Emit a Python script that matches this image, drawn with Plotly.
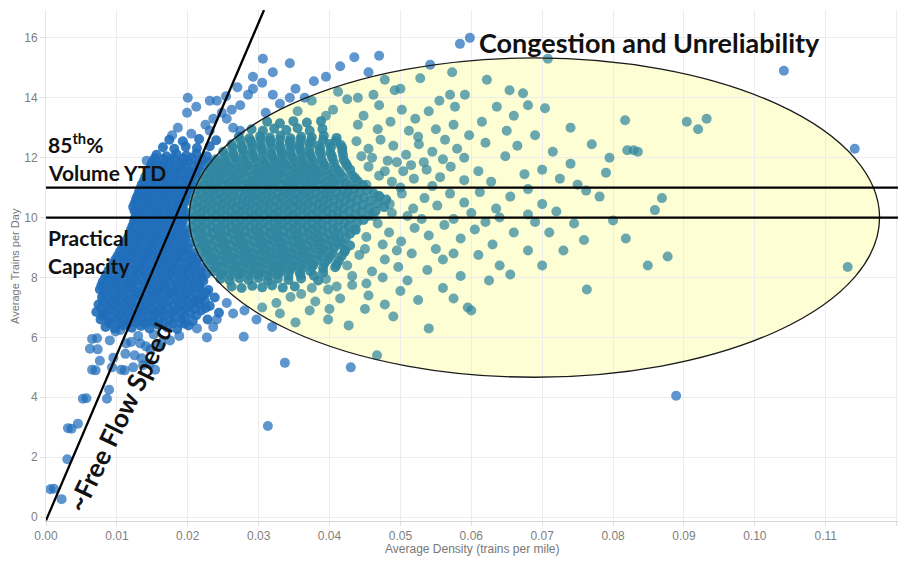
import plotly.graph_objects as go

# ---------------- data: (average density [trains/mile], average trains per day) ----------------
free_flow_pts = [
    (.0006, .93), (.0011, .95), (.0022, .6), (.0030, 1.93), (.0031, 2.97), (.0036, 2.95), (.0045, 3.12),
    (.0052, 3.95), (.0057, 3.97), (.0086, 3.95), (.0089, 4.25), (.0065, 4.92), (.0070, 4.9), (.0076, 5.22),
    (.0093, 5.0), (.0106, 4.92), (.0111, 4.9), (.0123, 5.0), (.0137, 5.07), (.0154, 4.92), (.0062, 5.62),
    (.0073, 5.6), (.0095, 5.32), (.0112, 5.45), (.0125, 5.4), (.0135, 5.3), (.0146, 5.12), (.0065, 5.95),
    (.0072, 5.97), (.0090, 5.9), (.0113, 5.8), (.0120, 5.85), (.0133, 5.8), (.0141, 5.7), (.0147, 5.6),
    (.0158, 5.7), (.0163, 5.82), (.0175, 5.9), (.0098, 6.2), (.0105, 6.25), (.0130, 6.05), (.0152, 6.1),
    (.0188, 6.05), (.0227, 6.0), (.0279, 6.02), (.0319, 6.35), (.0337, 5.15), (.0313, 3.04), (.0189, 6.5),
    (.0213, 6.3), (.0236, 6.35), (.0241, 6.6), (.0264, 6.8), (.0280, 6.9), (.0297, 6.6), (.0255, 7.15),
    (.0217, 7.25),
]

core_low_pts = [
    (.0084, 6.35), (.0097, 6.3), (.0109, 6.4), (.0121, 6.32), (.0134, 6.38), (.0146, 6.3), (.0158, 6.42), (.0171, 6.33), (.0185, 6.28), (.0201, 6.4),
    (.0077, 6.6), (.0089, 6.55), (.0101, 6.63), (.0113, 6.58), (.0125, 6.62), (.0138, 6.55), (.0150, 6.6), (.0162, 6.65), (.0175, 6.57), (.0191, 6.62), (.0207, 6.55), (.0228, 6.6),
    (.0071, 6.85), (.0082, 6.8), (.0094, 6.88), (.0106, 6.83), (.0118, 6.87), (.0129, 6.8), (.0141, 6.86), (.0152, 6.82), (.0165, 6.88), (.0177, 6.8), (.0190, 6.86), (.0203, 6.83), (.0219, 6.9), (.0244, 6.82),
    (.0074, 7.1), (.0086, 7.05), (.0098, 7.12), (.0110, 7.07), (.0121, 7.13), (.0133, 7.05), (.0144, 7.1), (.0156, 7.08), (.0167, 7.14), (.0179, 7.06), (.0192, 7.11), (.0204, 7.07), (.0216, 7.13), (.0231, 7.05),
    (.0079, 7.35), (.0091, 7.3), (.0102, 7.37), (.0114, 7.32), (.0126, 7.38), (.0137, 7.3), (.0149, 7.36), (.0160, 7.33), (.0172, 7.38), (.0184, 7.31), (.0196, 7.36), (.0208, 7.32), (.0221, 7.38), (.0238, 7.33),
    (.0076, 7.6), (.0088, 7.55), (.0099, 7.62), (.0111, 7.57), (.0122, 7.63), (.0134, 7.55), (.0145, 7.6), (.0157, 7.58), (.0168, 7.64), (.0180, 7.56), (.0192, 7.61), (.0204, 7.57), (.0216, 7.63), (.0229, 7.58),
    (.0080, 7.85), (.0092, 7.8), (.0104, 7.87), (.0116, 7.82), (.0127, 7.88), (.0139, 7.8), (.0150, 7.86), (.0162, 7.83), (.0173, 7.88), (.0185, 7.81), (.0197, 7.86), (.0209, 7.82), (.0222, 7.88),
    (.0085, 8.1), (.0096, 8.05), (.0108, 8.12), (.0119, 8.07), (.0131, 8.13), (.0142, 8.05), (.0154, 8.1), (.0165, 8.08), (.0177, 8.14), (.0188, 8.06), (.0200, 8.11), (.0212, 8.07), (.0226, 8.12),
    (.0091, 8.35), (.0103, 8.3), (.0114, 8.37), (.0126, 8.32), (.0137, 8.38), (.0149, 8.3), (.0160, 8.36), (.0172, 8.33), (.0183, 8.38), (.0195, 8.31), (.0207, 8.36), (.0219, 8.32),
    (.0098, 8.6), (.0110, 8.55), (.0121, 8.62), (.0133, 8.57), (.0144, 8.63), (.0156, 8.55), (.0167, 8.6), (.0179, 8.58), (.0190, 8.64), (.0202, 8.56), (.0214, 8.61),
    (.0104, 8.85), (.0116, 8.8), (.0127, 8.87), (.0139, 8.82), (.0150, 8.88), (.0162, 8.8), (.0173, 8.86), (.0185, 8.83), (.0196, 8.88), (.0208, 8.81),
]

core_low_fill_pts = [
    (.0090, 6.47), (.0103, 6.5), (.0115, 6.45), (.0128, 6.49), (.0140, 6.46), (.0152, 6.5), (.0165, 6.45), (.0179, 6.48), (.0195, 6.46),
    (.0080, 6.72), (.0092, 6.7), (.0104, 6.74), (.0116, 6.71), (.0129, 6.73), (.0141, 6.7), (.0153, 6.75), (.0166, 6.71), (.0180, 6.73), (.0196, 6.7), (.0212, 6.74),
    (.0078, 6.97), (.0090, 6.95), (.0101, 6.99), (.0113, 6.96), (.0125, 6.98), (.0136, 6.95), (.0148, 7.0), (.0160, 6.96), (.0172, 6.98), (.0185, 6.95), (.0198, 6.99), (.0210, 6.96), (.0225, 6.98),
    (.0080, 7.22), (.0092, 7.2), (.0104, 7.24), (.0115, 7.21), (.0127, 7.23), (.0139, 7.2), (.0150, 7.25), (.0162, 7.21), (.0174, 7.23), (.0186, 7.2), (.0198, 7.24), (.0210, 7.21), (.0224, 7.23),
    (.0082, 7.47), (.0094, 7.45), (.0105, 7.49), (.0117, 7.46), (.0128, 7.48), (.0140, 7.45), (.0152, 7.5), (.0163, 7.46), (.0175, 7.48), (.0187, 7.45), (.0199, 7.49), (.0212, 7.46), (.0226, 7.48),
    (.0078, 7.72), (.0086, 7.7), (.0098, 7.74), (.0110, 7.71), (.0121, 7.73), (.0133, 7.7), (.0145, 7.75), (.0156, 7.71), (.0168, 7.73), (.0180, 7.7), (.0192, 7.74), (.0204, 7.71), (.0217, 7.73),
    (.0083, 7.97), (.0090, 7.95), (.0102, 7.99), (.0113, 7.96), (.0125, 7.98), (.0137, 7.95), (.0148, 8.0), (.0160, 7.96), (.0171, 7.98), (.0183, 7.95), (.0195, 7.99), (.0207, 7.96), (.0220, 7.98),
    (.0088, 8.22), (.0100, 8.2), (.0111, 8.24), (.0123, 8.21), (.0135, 8.23), (.0146, 8.2), (.0158, 8.25), (.0169, 8.21), (.0181, 8.23), (.0193, 8.2), (.0205, 8.24), (.0217, 8.21),
    (.0095, 8.47), (.0107, 8.45), (.0118, 8.49), (.0130, 8.46), (.0141, 8.48), (.0153, 8.45), (.0165, 8.5), (.0176, 8.46), (.0188, 8.48), (.0200, 8.45), (.0212, 8.49),
    (.0101, 8.72), (.0113, 8.7), (.0124, 8.74), (.0136, 8.71), (.0148, 8.73), (.0159, 8.7), (.0171, 8.75), (.0182, 8.71), (.0194, 8.73), (.0206, 8.7),
]

core_high_pts = [
    (.0110, 9.1), (.0122, 9.05), (.0133, 9.12), (.0145, 9.07), (.0156, 9.13), (.0168, 9.05), (.0179, 9.1), (.0191, 9.08), (.0203, 9.13),
    (.0116, 9.35), (.0127, 9.3), (.0139, 9.37), (.0150, 9.32), (.0162, 9.38), (.0173, 9.3), (.0185, 9.36), (.0197, 9.33),
    (.0120, 9.6), (.0131, 9.55), (.0143, 9.62), (.0154, 9.57), (.0166, 9.63), (.0177, 9.55), (.0189, 9.6), (.0200, 9.58),
    (.0124, 9.85), (.0135, 9.8), (.0147, 9.87), (.0158, 9.82), (.0170, 9.88), (.0181, 9.8), (.0193, 9.86),
    (.0127, 10.1), (.0138, 10.05), (.0150, 10.12), (.0161, 10.07), (.0173, 10.13), (.0184, 10.05), (.0196, 10.1),
    (.0123, 10.35), (.0134, 10.3), (.0146, 10.37), (.0157, 10.32), (.0169, 10.38), (.0180, 10.3), (.0192, 10.36),
    (.0127, 10.6), (.0139, 10.55), (.0150, 10.62), (.0162, 10.57), (.0173, 10.63), (.0185, 10.55), (.0197, 10.6),
    (.0131, 10.85), (.0142, 10.8), (.0154, 10.87), (.0165, 10.82), (.0177, 10.88), (.0188, 10.8), (.0200, 10.86),
    (.0135, 11.1), (.0147, 11.05), (.0158, 11.12), (.0170, 11.07), (.0181, 11.13), (.0193, 11.05), (.0205, 11.1),
    (.0140, 11.35), (.0151, 11.3), (.0163, 11.37), (.0174, 11.32), (.0186, 11.38), (.0198, 11.3), (.0211, 11.36),
    (.0145, 11.6), (.0157, 11.55), (.0168, 11.62), (.0180, 11.57), (.0191, 11.63), (.0203, 11.55), (.0216, 11.6),
    (.0150, 11.85), (.0163, 11.8), (.0176, 11.87), (.0189, 11.82), (.0201, 11.88), (.0215, 11.8), (.0229, 11.86),
    (.0156, 12.1), (.0170, 12.05), (.0184, 12.12), (.0198, 12.07), (.0212, 12.13), (.0227, 12.05),
    (.0165, 12.35), (.0181, 12.3), (.0197, 12.37), (.0213, 12.32), (.0231, 12.38),
    (.0174, 12.6), (.0193, 12.55), (.0216, 12.62), (.0240, 12.58),
]

core_high_fill_pts = [
    (.0107, 8.97), (.0119, 8.95), (.0130, 8.99), (.0142, 8.96), (.0153, 8.98), (.0165, 8.95), (.0176, 9.0), (.0188, 8.96), (.0200, 8.98),
    (.0113, 9.22), (.0125, 9.2), (.0136, 9.24), (.0148, 9.21), (.0159, 9.23), (.0171, 9.2), (.0183, 9.25), (.0194, 9.21),
    (.0118, 9.47), (.0130, 9.45), (.0141, 9.49), (.0153, 9.46), (.0164, 9.48), (.0176, 9.45), (.0187, 9.5), (.0199, 9.46),
    (.0122, 9.72), (.0134, 9.7), (.0145, 9.74), (.0157, 9.71), (.0168, 9.73), (.0180, 9.7), (.0191, 9.75),
    (.0125, 9.97), (.0137, 9.95), (.0148, 9.99), (.0160, 9.96), (.0171, 9.98), (.0183, 9.95), (.0195, 10.0),
    (.0125, 10.22), (.0136, 10.2), (.0148, 10.24), (.0159, 10.21), (.0171, 10.23), (.0182, 10.2), (.0194, 10.25),
    (.0125, 10.47), (.0137, 10.45), (.0148, 10.49), (.0160, 10.46), (.0171, 10.48), (.0183, 10.45), (.0195, 10.5),
    (.0129, 10.72), (.0141, 10.7), (.0152, 10.74), (.0164, 10.71), (.0175, 10.73), (.0187, 10.7), (.0198, 10.75),
    (.0133, 10.97), (.0145, 10.95), (.0156, 10.99), (.0168, 10.96), (.0179, 10.98), (.0191, 10.95), (.0203, 11.0),
    (.0138, 11.22), (.0149, 11.2), (.0161, 11.24), (.0172, 11.21), (.0184, 11.23), (.0196, 11.2), (.0208, 11.25),
    (.0143, 11.47), (.0154, 11.45), (.0166, 11.49), (.0177, 11.46), (.0189, 11.48), (.0201, 11.45), (.0213, 11.5),
    (.0148, 11.72), (.0160, 11.7), (.0172, 11.74), (.0184, 11.71), (.0196, 11.73), (.0209, 11.7), (.0222, 11.75),
    (.0153, 11.97), (.0166, 11.95), (.0180, 11.99), (.0193, 11.96), (.0206, 11.98), (.0220, 11.95),
]

upper_scatter_pts = [
    (.0186, 13.0), (.0178, 12.75), (.0199, 13.5), (.0231, 13.9), (.0241, 13.9), (.0306, 15.3), (.0344, 15.15),
    (.0292, 14.7), (.0292, 14.3), (.0285, 14.1), (.0274, 13.75), (.0344, 14.0), (.0236, 13.3), (.0255, 13.3),
    (.0264, 13.0), (.0274, 12.9), (.0231, 12.9), (.0142, 11.9), (.0128, 10.65),
    (.0205, 12.8), (.0225, 13.1), (.0248, 13.5), (.0262, 13.6), (.0212, 13.7), (.0200, 14.0), (.0254, 14.05),
    (.0270, 14.35), (.0305, 14.5), (.0320, 14.85), (.0310, 13.5), (.0330, 13.8), (.0355, 13.55), (.0375, 13.9),
    (.0395, 13.4), (.0320, 14.1), (.0365, 14.0),
]

congested_core_pts = [
    (.0262, 7.7), (.0276, 7.65), (.0291, 7.72), (.0305, 7.67), (.0319, 7.73), (.0334, 7.66), (.0351, 7.7),
    (.0246, 7.95), (.0259, 7.9), (.0273, 7.97), (.0286, 7.92), (.0300, 7.98), (.0313, 7.9), (.0327, 7.96), (.0342, 7.92), (.0360, 7.97), (.0384, 7.9),
    (.0236, 8.2), (.0249, 8.15), (.0263, 8.22), (.0276, 8.17), (.0290, 8.23), (.0303, 8.15), (.0317, 8.2), (.0330, 8.18), (.0344, 8.23), (.0358, 8.16), (.0373, 8.21), (.0391, 8.17),
    (.0229, 8.45), (.0242, 8.4), (.0255, 8.47), (.0269, 8.42), (.0282, 8.48), (.0296, 8.4), (.0309, 8.46), (.0323, 8.43), (.0336, 8.48), (.0350, 8.41), (.0363, 8.46), (.0377, 8.42), (.0393, 8.48), (.0410, 8.43),
    (.0223, 8.7), (.0236, 8.65), (.0249, 8.72), (.0263, 8.67), (.0276, 8.73), (.0290, 8.65), (.0303, 8.7), (.0317, 8.68), (.0330, 8.73), (.0344, 8.66), (.0357, 8.71), (.0371, 8.67), (.0385, 8.73), (.0400, 8.68), (.0417, 8.72),
    (.0216, 8.95), (.0229, 8.9), (.0243, 8.97), (.0256, 8.92), (.0270, 8.98), (.0283, 8.9), (.0297, 8.96), (.0310, 8.93), (.0324, 8.98), (.0337, 8.91), (.0351, 8.96), (.0364, 8.92), (.0378, 8.98), (.0392, 8.93), (.0406, 8.97), (.0422, 8.91),
    (.0212, 9.2), (.0225, 9.15), (.0239, 9.22), (.0252, 9.17), (.0266, 9.23), (.0279, 9.15), (.0293, 9.2), (.0306, 9.18), (.0320, 9.23), (.0333, 9.16), (.0347, 9.21), (.0360, 9.17), (.0374, 9.23), (.0388, 9.18), (.0402, 9.22), (.0417, 9.16),
    (.0208, 9.45), (.0221, 9.4), (.0235, 9.47), (.0248, 9.42), (.0262, 9.48), (.0275, 9.4), (.0289, 9.46), (.0302, 9.43), (.0316, 9.48), (.0329, 9.41), (.0343, 9.46), (.0356, 9.42), (.0370, 9.48), (.0384, 9.43), (.0398, 9.47), (.0413, 9.41), (.0429, 9.46),
    (.0206, 9.7), (.0219, 9.65), (.0233, 9.72), (.0246, 9.67), (.0260, 9.73), (.0273, 9.65), (.0287, 9.7), (.0300, 9.68), (.0314, 9.73), (.0327, 9.66), (.0341, 9.71), (.0354, 9.67), (.0368, 9.73), (.0382, 9.68), (.0396, 9.72), (.0411, 9.66), (.0427, 9.71),
    (.0207, 9.95), (.0220, 9.9), (.0234, 9.97), (.0247, 9.92), (.0261, 9.98), (.0274, 9.9), (.0288, 9.96), (.0301, 9.93), (.0315, 9.98), (.0328, 9.91), (.0342, 9.96), (.0355, 9.92), (.0369, 9.98), (.0383, 9.93), (.0398, 9.97), (.0413, 9.91), (.0430, 9.96), (.0448, 9.92),
    (.0206, 10.2), (.0219, 10.15), (.0233, 10.22), (.0246, 10.17), (.0260, 10.23), (.0273, 10.15), (.0287, 10.2), (.0300, 10.18), (.0314, 10.23), (.0327, 10.16), (.0341, 10.21), (.0354, 10.17), (.0368, 10.23), (.0382, 10.18), (.0396, 10.22), (.0411, 10.16), (.0427, 10.21), (.0445, 10.17), (.0465, 10.22),
    (.0208, 10.45), (.0221, 10.4), (.0235, 10.47), (.0248, 10.42), (.0262, 10.48), (.0275, 10.4), (.0289, 10.46), (.0302, 10.43), (.0316, 10.48), (.0329, 10.41), (.0343, 10.46), (.0356, 10.42), (.0370, 10.48), (.0384, 10.43), (.0398, 10.47), (.0413, 10.41), (.0429, 10.46), (.0447, 10.42), (.0468, 10.47),
    (.0210, 10.7), (.0223, 10.65), (.0237, 10.72), (.0250, 10.67), (.0264, 10.73), (.0277, 10.65), (.0291, 10.7), (.0304, 10.68), (.0318, 10.73), (.0331, 10.66), (.0345, 10.71), (.0358, 10.67), (.0372, 10.73), (.0386, 10.68), (.0400, 10.72), (.0415, 10.66), (.0431, 10.71), (.0449, 10.67), (.0470, 10.72),
    (.0214, 10.95), (.0227, 10.9), (.0241, 10.97), (.0254, 10.92), (.0268, 10.98), (.0281, 10.9), (.0295, 10.96), (.0308, 10.93), (.0322, 10.98), (.0335, 10.91), (.0349, 10.96), (.0362, 10.92), (.0376, 10.98), (.0390, 10.93), (.0404, 10.97), (.0419, 10.91), (.0435, 10.96), (.0453, 10.92),
    (.0218, 11.2), (.0231, 11.15), (.0245, 11.22), (.0258, 11.17), (.0272, 11.23), (.0285, 11.15), (.0299, 11.2), (.0312, 11.18), (.0326, 11.23), (.0339, 11.16), (.0353, 11.21), (.0366, 11.17), (.0380, 11.23), (.0394, 11.18), (.0408, 11.22), (.0423, 11.16), (.0440, 11.21),
    (.0224, 11.45), (.0237, 11.4), (.0251, 11.47), (.0264, 11.42), (.0278, 11.48), (.0291, 11.4), (.0305, 11.46), (.0318, 11.43), (.0332, 11.48), (.0345, 11.41), (.0359, 11.46), (.0372, 11.42), (.0386, 11.48), (.0400, 11.43), (.0415, 11.47), (.0432, 11.41),
    (.0231, 11.7), (.0244, 11.65), (.0258, 11.72), (.0271, 11.67), (.0285, 11.73), (.0298, 11.65), (.0312, 11.7), (.0325, 11.68), (.0339, 11.73), (.0352, 11.66), (.0366, 11.71), (.0379, 11.67), (.0393, 11.73), (.0408, 11.68), (.0425, 11.72),
    (.0240, 11.95), (.0253, 11.9), (.0267, 11.97), (.0280, 11.92), (.0294, 11.98), (.0307, 11.9), (.0321, 11.96), (.0334, 11.93), (.0348, 11.98), (.0361, 11.91), (.0375, 11.96), (.0389, 11.92), (.0404, 11.98), (.0420, 11.93),
    (.0250, 12.2), (.0264, 12.15), (.0278, 12.22), (.0291, 12.17), (.0305, 12.23), (.0318, 12.15), (.0332, 12.2), (.0345, 12.18), (.0359, 12.23), (.0372, 12.16), (.0386, 12.21), (.0401, 12.17), (.0418, 12.22),
    (.0262, 12.45), (.0276, 12.4), (.0290, 12.47), (.0303, 12.42), (.0317, 12.48), (.0330, 12.4), (.0344, 12.46), (.0357, 12.43), (.0371, 12.48), (.0385, 12.41), (.0400, 12.46), (.0416, 12.42),
    (.0272, 12.7), (.0287, 12.65), (.0302, 12.72), (.0316, 12.67), (.0331, 12.73), (.0345, 12.65), (.0360, 12.7), (.0375, 12.68), (.0392, 12.73), (.0410, 12.66),
    (.0290, 12.95), (.0306, 12.9), (.0322, 12.97), (.0339, 12.92), (.0355, 12.98), (.0372, 12.9), (.0390, 12.96),
    (.0312, 13.2), (.0330, 13.15), (.0349, 13.22), (.0368, 13.17), (.0388, 13.22),
]

congested_fill_pts = [
    (.0247, 8.08), (.0260, 8.06), (.0273, 8.1), (.0287, 8.07), (.0300, 8.09), (.0314, 8.05), (.0327, 8.1), (.0342, 8.07), (.0359, 8.09), (.0378, 8.06),
    (.0239, 8.33), (.0252, 8.31), (.0266, 8.35), (.0279, 8.32), (.0293, 8.34), (.0306, 8.3), (.0320, 8.35), (.0333, 8.32), (.0347, 8.34), (.0361, 8.31), (.0375, 8.35), (.0391, 8.32), (.0408, 8.34),
    (.0232, 8.58), (.0246, 8.56), (.0259, 8.6), (.0273, 8.57), (.0286, 8.59), (.0300, 8.55), (.0313, 8.6), (.0327, 8.57), (.0340, 8.59), (.0354, 8.56), (.0367, 8.6), (.0382, 8.57), (.0397, 8.59), (.0413, 8.56),
    (.0226, 8.83), (.0239, 8.81), (.0253, 8.85), (.0266, 8.82), (.0280, 8.84), (.0293, 8.8), (.0307, 8.85), (.0320, 8.82), (.0334, 8.84), (.0347, 8.81), (.0361, 8.85), (.0374, 8.82), (.0389, 8.84), (.0404, 8.81), (.0421, 8.85),
    (.0221, 9.08), (.0234, 9.06), (.0248, 9.1), (.0261, 9.07), (.0275, 9.09), (.0288, 9.05), (.0302, 9.1), (.0315, 9.07), (.0329, 9.09), (.0342, 9.06), (.0356, 9.1), (.0369, 9.07), (.0383, 9.09), (.0398, 9.06), (.0413, 9.1), (.0429, 9.07),
    (.0217, 9.33), (.0230, 9.31), (.0244, 9.35), (.0257, 9.32), (.0271, 9.34), (.0284, 9.3), (.0298, 9.35), (.0311, 9.32), (.0325, 9.34), (.0338, 9.31), (.0352, 9.35), (.0365, 9.32), (.0379, 9.34), (.0393, 9.31), (.0408, 9.35), (.0423, 9.32),
    (.0214, 9.58), (.0227, 9.56), (.0241, 9.6), (.0254, 9.57), (.0268, 9.59), (.0281, 9.55), (.0295, 9.6), (.0308, 9.57), (.0322, 9.59), (.0335, 9.56), (.0349, 9.6), (.0362, 9.57), (.0376, 9.59), (.0390, 9.56), (.0405, 9.6), (.0420, 9.57), (.0437, 9.59),
    (.0213, 9.83), (.0226, 9.81), (.0240, 9.85), (.0253, 9.82), (.0267, 9.84), (.0280, 9.8), (.0294, 9.85), (.0307, 9.82), (.0321, 9.84), (.0334, 9.81), (.0348, 9.85), (.0361, 9.82), (.0375, 9.84), (.0389, 9.81), (.0405, 9.85), (.0421, 9.82), (.0439, 9.84),
    (.0213, 10.08), (.0226, 10.06), (.0240, 10.1), (.0253, 10.07), (.0267, 10.09), (.0280, 10.05), (.0294, 10.1), (.0307, 10.07), (.0321, 10.09), (.0334, 10.06), (.0348, 10.1), (.0361, 10.07), (.0375, 10.09), (.0389, 10.06), (.0404, 10.1), (.0419, 10.07), (.0437, 10.09), (.0456, 10.06),
    (.0214, 10.33), (.0227, 10.31), (.0241, 10.35), (.0254, 10.32), (.0268, 10.34), (.0281, 10.3), (.0295, 10.35), (.0308, 10.32), (.0322, 10.34), (.0335, 10.31), (.0349, 10.35), (.0362, 10.32), (.0376, 10.34), (.0390, 10.31), (.0405, 10.35), (.0420, 10.32), (.0437, 10.34), (.0456, 10.31), (.0477, 10.35),
    (.0216, 10.58), (.0229, 10.56), (.0243, 10.6), (.0256, 10.57), (.0270, 10.59), (.0283, 10.55), (.0297, 10.6), (.0310, 10.57), (.0324, 10.59), (.0337, 10.56), (.0351, 10.6), (.0364, 10.57), (.0378, 10.59), (.0392, 10.56), (.0407, 10.6), (.0422, 10.57), (.0439, 10.59), (.0458, 10.56), (.0480, 10.6),
    (.0219, 10.83), (.0232, 10.81), (.0246, 10.85), (.0259, 10.82), (.0273, 10.84), (.0286, 10.8), (.0300, 10.85), (.0313, 10.82), (.0327, 10.84), (.0340, 10.81), (.0354, 10.85), (.0367, 10.82), (.0381, 10.84), (.0395, 10.81), (.0410, 10.85), (.0425, 10.82), (.0442, 10.84), (.0462, 10.81),
    (.0223, 11.08), (.0236, 11.06), (.0250, 11.1), (.0263, 11.07), (.0277, 11.09), (.0290, 11.05), (.0304, 11.1), (.0317, 11.07), (.0331, 11.09), (.0344, 11.06), (.0358, 11.1), (.0371, 11.07), (.0385, 11.09), (.0399, 11.06), (.0414, 11.1), (.0429, 11.07), (.0447, 11.09),
    (.0228, 11.33), (.0241, 11.31), (.0255, 11.35), (.0268, 11.32), (.0282, 11.34), (.0295, 11.3), (.0309, 11.35), (.0322, 11.32), (.0336, 11.34), (.0349, 11.31), (.0363, 11.35), (.0376, 11.32), (.0390, 11.34), (.0404, 11.31), (.0419, 11.35), (.0436, 11.32),
    (.0234, 11.58), (.0247, 11.56), (.0261, 11.6), (.0274, 11.57), (.0288, 11.59), (.0301, 11.55), (.0315, 11.6), (.0328, 11.57), (.0342, 11.59), (.0355, 11.56), (.0369, 11.6), (.0382, 11.57), (.0397, 11.59), (.0412, 11.56), (.0429, 11.6),
    (.0242, 11.83), (.0255, 11.81), (.0269, 11.85), (.0282, 11.82), (.0296, 11.84), (.0309, 11.8), (.0323, 11.85), (.0336, 11.82), (.0350, 11.84), (.0363, 11.81), (.0377, 11.85), (.0391, 11.82), (.0406, 11.84), (.0423, 11.81),
    (.0252, 12.08), (.0265, 12.06), (.0279, 12.1), (.0292, 12.07), (.0306, 12.09), (.0319, 12.05), (.0333, 12.1), (.0346, 12.07), (.0360, 12.09), (.0373, 12.06), (.0388, 12.1), (.0403, 12.07), (.0419, 12.09),
    (.0263, 12.33), (.0277, 12.31), (.0291, 12.35), (.0304, 12.32), (.0318, 12.34), (.0331, 12.3), (.0345, 12.35), (.0358, 12.32), (.0372, 12.34), (.0387, 12.31), (.0402, 12.35), (.0418, 12.32),
    (.0275, 12.58), (.0289, 12.56), (.0303, 12.6), (.0316, 12.57), (.0330, 12.59), (.0344, 12.55), (.0359, 12.6), (.0374, 12.57), (.0391, 12.59), (.0409, 12.56),
]

congested_halo_pts = [
    (.0405, 13.6), (.0425, 13.95), (.0448, 13.4), (.0470, 13.75), (.0486, 13.2), (.0502, 13.6), (.0521, 13.3), (.0540, 13.55),
    (.0512, 12.9), (.0468, 12.95), (.0440, 13.1), (.0555, 13.9), (.0500, 14.3), (.0528, 14.65),
    (.0438, 12.55), (.0455, 12.3), (.0472, 12.6), (.0490, 12.4), (.0508, 12.1), (.0526, 12.45), (.0545, 12.2), (.0563, 12.6),
    (.0580, 12.3), (.0597, 12.75), (.0460, 12.0), (.0482, 11.9), (.0533, 11.85),
    (.0455, 11.7), (.0470, 11.4), (.0488, 11.2), (.0504, 11.55), (.0519, 11.3), (.0537, 11.6), (.0556, 11.35), (.0571, 11.7),
    (.0590, 11.25), (.0610, 11.55), (.0628, 11.2), (.0500, 11.0), (.0545, 11.05),
    (.0470, 10.7), (.0485, 10.45), (.0502, 10.8), (.0518, 10.3), (.0534, 10.65), (.0552, 10.4), (.0570, 10.8), (.0590, 10.5),
    (.0612, 10.85), (.0635, 10.3), (.0655, 10.7), (.0680, 10.95), (.0700, 10.45),
    (.0435, 9.6), (.0452, 9.35), (.0468, 9.8), (.0484, 9.5), (.0501, 9.2), (.0520, 9.65), (.0540, 9.4), (.0562, 9.75),
    (.0585, 9.3), (.0605, 9.6), (.0630, 9.1), (.0660, 9.5), (.0690, 9.85),
    (.0425, 8.4), (.0442, 8.75), (.0460, 8.2), (.0478, 8.6), (.0497, 8.35), (.0516, 8.8), (.0538, 8.25), (.0560, 8.6),
    (.0585, 8.05), (.0610, 8.75), (.0640, 8.4),
    (.0360, 7.45), (.0380, 7.2), (.0398, 7.6), (.0415, 7.3), (.0432, 7.75), (.0455, 7.4), (.0478, 7.1), (.0500, 7.55),
    (.0525, 7.25), (.0560, 7.65), (.0595, 7.0),
    (.0330, 6.8), (.0352, 6.5), (.0372, 6.9), (.0398, 6.6), (.0427, 6.4), (.0450, 6.95), (.0490, 6.7), (.0540, 6.3),
    (.0430, 5.0), (.0467, 5.4),
    (.0435, 15.35), (.0470, 15.4), (.0415, 15.05), (.0395, 14.7), (.0378, 14.55), (.0352, 14.3), (.0455, 14.85),
    (.0478, 14.6), (.0492, 14.25), (.0412, 14.2), (.0440, 14.0), (.0462, 14.1),
    (.0452, 11.1), (.0478, 11.55), (.0495, 11.85), (.0515, 11.75), (.0462, 10.05), (.0488, 10.15), (.0510, 10.05),
    (.0530, 9.95), (.0475, 9.1), (.0495, 8.9), (.0450, 8.95), (.0432, 8.05), (.0452, 7.8), (.0475, 8.0), (.0510, 7.9),
    (.0445, 12.05), (.0525, 12.7), (.0550, 12.95), (.0575, 13.1), (.0590, 12.0), (.0560, 11.95), (.0600, 10.15),
    (.0575, 9.95), (.0620, 9.85), (.0550, 8.95), (.0575, 8.8), (.0395, 7.95), (.0410, 7.7), (.0375, 7.65),
    (.0345, 7.35), (.0325, 7.15), (.0305, 7.0), (.0400, 6.95),
]

outlier_pts = [
    (.0584, 15.8), (.0598, 16.0), (.0708, 15.3), (.0573, 14.85), (.0622, 14.6), (.0654, 14.25), (.0673, 14.15),
    (.0570, 14.1), (.0591, 14.1), (.0542, 15.1), (.0577, 13.7), (.0636, 13.7), (.0680, 13.75), (.0704, 13.65),
    (.0817, 13.25), (.0904, 13.2), (.0932, 13.3), (.0920, 12.95), (.1041, 14.9), (.1141, 12.3), (.1131, 8.35),
    (.0889, 4.05), (.0820, 12.25), (.0829, 12.25), (.0835, 12.2), (.0781, 10.7), (.0750, 11.1), (.0762, 10.9),
    (.0869, 10.65), (.0859, 10.25), (.0818, 9.3), (.0849, 8.4), (.0877, 8.7), (.0763, 7.6), (.0759, 9.25),
    (.0650, 12.9), (.0665, 12.4), (.0690, 12.75), (.0715, 12.2), (.0740, 11.8), (.0725, 11.3), (.0770, 12.45),
    (.0795, 12.0), (.0700, 11.6), (.0675, 11.45), (.0648, 12.05), (.0620, 12.5), (.0615, 13.2), (.0660, 13.4),
    (.0740, 13.0), (.0720, 10.2), (.0745, 9.8), (.0710, 9.5), (.0680, 8.9), (.0655, 8.1), (.0700, 8.4),
    (.0730, 8.9), (.0625, 7.9), (.0575, 7.3), (.0600, 6.9), (.0640, 10.0), (.0800, 9.9), (.0790, 11.5), (.0680, 10.1),
]

x_ticks = [0.00, 0.01, 0.02, 0.03, 0.04, 0.05, 0.06, 0.07, 0.08, 0.09, 0.10, 0.11, 0.12]
y_ticks = [0, 2, 4, 6, 8, 10, 12, 14, 16]

practical_capacity = 10
volume_85th = 11
free_flow_speed = 554  # trains per day per (train per mile)
free_flow_offset = 0.0002

# ellipse of the congestion zone (data coords)
ell_x0, ell_x1, ell_y0, ell_y1 = 0.0202, 0.1176, 4.67, 15.33

# ---------------- build ----------------
cx, cy = (ell_x0 + ell_x1) / 2, (ell_y0 + ell_y1) / 2
ax, ay = (ell_x1 - ell_x0) / 2, (ell_y1 - ell_y0) / 2


def split(points):
    ins = [((p[0] - cx) / ax) ** 2 + ((p[1] - cy) / ay) ** 2 < 1 for p in points]
    out_pts = [p for p, i in zip(points, ins) if not i]
    in_pts = [p for p, i in zip(points, ins) if i]
    return out_pts, in_pts


dense_pts = (core_low_pts + core_low_fill_pts + core_high_pts + core_high_fill_pts
             + congested_core_pts + congested_fill_pts)
sparse_pts = free_flow_pts + upper_scatter_pts + congested_halo_pts + outlier_pts

BLUE = "rgb(32,110,186)"
TEAL = "rgb(48,134,160)"

fig = go.Figure()
for pts, opac in ((dense_pts, 0.9), (sparse_pts, 0.72)):
    o, i = split(pts)
    for grp, col in ((o, BLUE), (i, TEAL)):
        fig.add_trace(go.Scatter(x=[p[0] for p in grp], y=[p[1] for p in grp], mode="markers",
                                 marker=dict(size=10, color=col, opacity=opac, line=dict(width=0)),
                                 hoverinfo="skip", showlegend=False))

XMIN, XMAX = 0.0, 0.1202
YMIN, YMAX = -0.13, 16.93

shapes = [
    dict(type="circle", xref="x", yref="y", x0=ell_x0, x1=ell_x1, y0=ell_y0, y1=ell_y1,
         fillcolor="rgb(254,254,212)", line=dict(width=0), layer="below"),
    dict(type="circle", xref="x", yref="y", x0=ell_x0, x1=ell_x1, y0=ell_y0, y1=ell_y1,
         fillcolor="rgba(0,0,0,0)", line=dict(width=1.3, color="#1a1a1a"), layer="above"),
    dict(type="line", xref="paper", yref="y", x0=0, x1=1, y0=volume_85th, y1=volume_85th,
         line=dict(width=2.3, color="black"), layer="above"),
    dict(type="line", xref="paper", yref="y", x0=0, x1=1, y0=practical_capacity, y1=practical_capacity,
         line=dict(width=2.3, color="black"), layer="above"),
]
ff_y1 = 16.93
ff_x1 = ff_y1 / free_flow_speed + free_flow_offset
ff_x0 = 0.0
ff_y0 = free_flow_speed * (ff_x0 - free_flow_offset)
shapes.append(dict(type="line", xref="x", yref="y", x0=ff_x0, y0=ff_y0, x1=ff_x1, y1=ff_y1,
                   line=dict(width=2.3, color="black"), layer="above"))

lab_font = dict(family="Lato, Open Sans, sans-serif", size=21, color="#111")
annotations = [
    dict(x=0.0, y=12.49, xref="x", yref="y", text="<b>85<sup>th</sup>%</b>", showarrow=False,
         xanchor="left", yanchor="middle", font=lab_font),
    dict(x=0.0, y=11.52, xref="x", yref="y", text="<b>Volume YTD</b>", showarrow=False,
         xanchor="left", yanchor="middle", font=lab_font),
    dict(x=0.0, y=9.35, xref="x", yref="y", text="<b>Practical</b>", showarrow=False,
         xanchor="left", yanchor="middle", font=lab_font),
    dict(x=0.0, y=8.41, xref="x", yref="y", text="<b>Capacity</b>", showarrow=False,
         xanchor="left", yanchor="middle", font=lab_font),
    dict(x=0.0608, y=15.86, xref="x", yref="y", text="<b>Congestion and Unreliability</b>", showarrow=False,
         xanchor="left", yanchor="middle", font=dict(family="Lato, Open Sans, sans-serif", size=27, color="#111")),
    dict(x=0.0104, y=3.33, xref="x", yref="y", text="<b>~Free Flow Speed</b>", showarrow=False,
         textangle=-64, xanchor="center", yanchor="middle",
         font=dict(family="Lato, Open Sans, sans-serif", size=26, color="#111")),
    dict(x=0.5, y=-0.038, xref="paper", yref="paper", text="Average Density (trains per mile)", showarrow=False,
         xanchor="center", yanchor="top", font=dict(family="Liberation Sans, Arial", size=12, color="#777")),
    dict(x=-0.037, y=0.5, xref="paper", yref="paper", text="Average Trains per Day", showarrow=False,
         textangle=-90, xanchor="center", yanchor="middle",
         font=dict(family="Liberation Sans, Arial", size=11, color="#777")),
]

fig.update_layout(
    width=898, height=562,
    margin=dict(l=46, r=0, t=10, b=41),
    paper_bgcolor="white", plot_bgcolor="white",
    shapes=shapes, annotations=annotations,
    xaxis=dict(range=[XMIN, XMAX], tickvals=x_ticks, ticktext=[f"{v:.2f}" for v in x_ticks],
               showgrid=True, gridcolor="#ececec", gridwidth=1, zeroline=False,
               showline=True, linecolor="#d6d6d6", linewidth=1,
               ticks="outside", ticklen=4, tickcolor="#e0e0e0",
               tickfont=dict(family="Liberation Sans, Arial", size=12, color="#808080")),
    yaxis=dict(range=[YMIN, YMAX], tickvals=y_ticks,
               showgrid=True, gridcolor="#ececec", gridwidth=1, zeroline=False,
               showline=True, linecolor="#e6e6e6", linewidth=1,
               ticks="outside", ticklen=5, tickcolor="#e0e0e0",
               tickfont=dict(family="Liberation Sans, Arial", size=12, color="#808080")),
)

fig.write_html("out.html")
